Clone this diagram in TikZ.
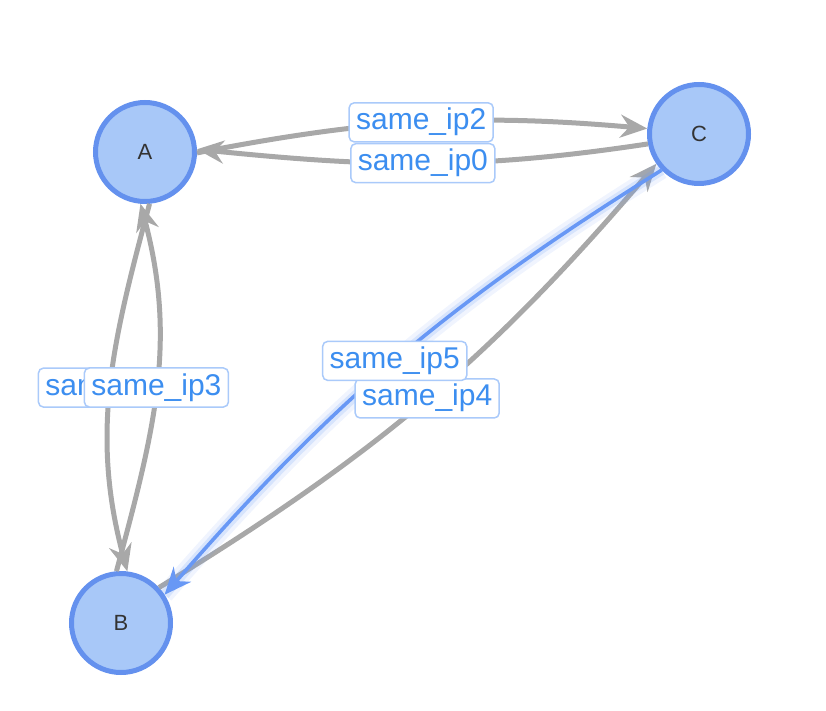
\documentclass[tikz,border=0pt]{standalone}
\usepackage{fontspec}
\setmainfont{Liberation Sans}
\usetikzlibrary{arrows.meta}

\definecolor{nodefill}{RGB}{168,200,248}
\definecolor{nodeline}{RGB}{100,145,238}
\definecolor{edgegray}{RGB}{168,168,168}
\definecolor{edgeblue}{RGB}{104,152,245}
\definecolor{labeltext}{RGB}{60,142,240}
\definecolor{labelline}{RGB}{170,202,250}

\begin{document}
\begin{tikzpicture}[x=1pt, y=1pt,
  >={Stealth[length=27pt, width=23pt, inset=9pt]},
  vertex/.style={circle, draw=nodeline, fill=nodefill, line width=5pt,
    minimum size=99pt, inner sep=0pt, text=black!80,
    font=\fontsize{22}{22}\selectfont},
  link/.style={->, draw=edgegray, line width=5pt},
  hilite/.style={->, draw=edgeblue, line width=3.6pt,
    preaction={draw=edgeblue, -, line width=18pt, draw opacity=0.10},
    preaction={draw=edgeblue, -, line width=10pt, draw opacity=0.18}},
  lbl/.style={draw=labelline, fill=white, line width=1.5pt, rounded corners=5pt,
    text=labeltext, font=\fontsize{30}{30}\selectfont,
    inner xsep=7pt, inner ysep=6pt, text height=21pt, text depth=6pt}]

  \useasboundingbox (0,0) rectangle (826,710);

  % Vertices
  \node[vertex] (A) at (145,558) {A};
  \node[vertex] (B) at (121,87) {B};
  \node[vertex] (C) at (699,576) {C};

  % A -- C
  \draw[link] (A.-1) to[out=11, in=175] coordinate[pos=0.5] (m2) (C.174);
  \draw[link] (C.191) to[out=188.6, in=-5.8] coordinate[pos=0.5] (m0) (A.3);

  % A -- B
  \draw[link] (A.-85) to[out=-105, in=105] coordinate[pos=0.5] (m1) (B.83);
  \draw[link] (B.95) to[out=75, in=-75] coordinate[pos=0.5] (m3) (A.-95);

  % B -- C
  \draw[link] (B.43) to[out=31.5, in=229.5] coordinate[pos=0.5] (m4) (C.215);
  \draw[hilite] (C.224) to[out=212, in=49] coordinate[pos=0.5] (m5) (B.33);

  % Edge labels
  \node[lbl] (ip2) at (m2) {same\_ip2};
  \node[lbl] (ip0) at (m0) {same\_ip0};
  \node[lbl] (ip1) at (m1) {same\_ip1};
  \node[lbl] (ip3) at (m3) {same\_ip3};
  \node[lbl] (ip4) at (m4) {same\_ip4};
  \node[lbl] (ip5) at (m5) {same\_ip5};
\end{tikzpicture}
\end{document}
